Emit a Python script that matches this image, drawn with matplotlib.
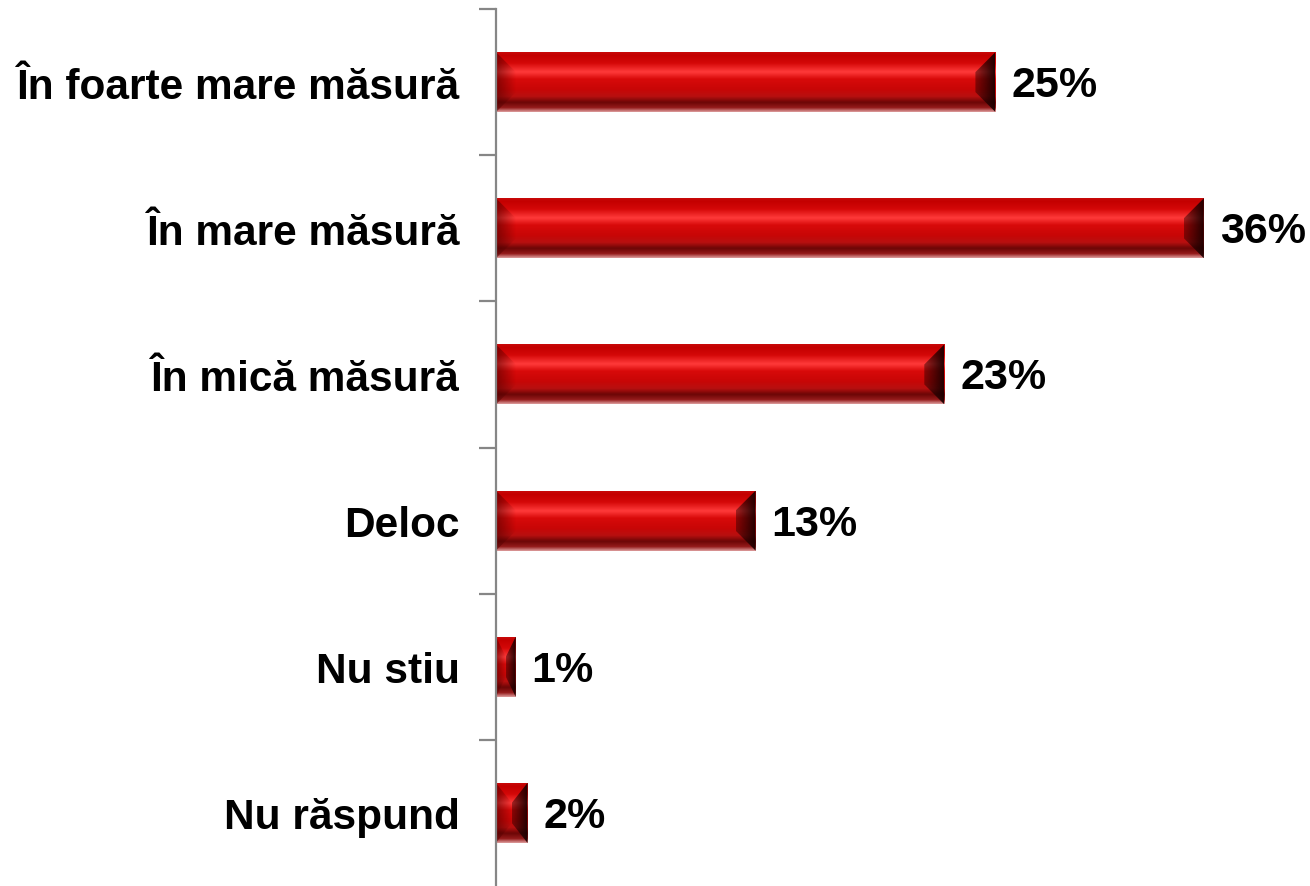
#!/usr/bin/env python3
"""
Survey answer distribution drawn as horizontal bevelled red bars.
"""

import matplotlib
matplotlib.use("Agg")
import matplotlib.pyplot as plt
import numpy as np
from matplotlib.colors import LinearSegmentedColormap, to_rgba
from matplotlib.patches import Polygon, Rectangle

# Answer categories, top to bottom
CATEGORIES = [
    "În foarte mare măsură",
    "În mare măsură",
    "În mică măsură",
    "Deloc",
    "Nu stiu",
    "Nu răspund",
]
# Share of respondents (%)
VALUES = [25.4, 36.0, 22.8, 13.2, 1.0, 1.6]

FIG_W, FIG_H, DPI = 13.1, 8.87, 100
AX_LEFT_PX, AX_TOP_PX = 496, 10
X_MAX = 41.4
BAR_HEIGHT = 0.41
BEVEL_PX = 20

plt.rcParams["font.family"] = ["Liberation Sans", "DejaVu Sans"]

# vertical shading of the bar body, top edge -> bottom edge
BODY_CMAP = LinearSegmentedColormap.from_list("body", [
    (0.00, "#c80a0a"),
    (0.05, "#c40000"),
    (0.18, "#d40808"),
    (0.33, "#ff3a3a"),
    (0.45, "#d80a0a"),
    (0.62, "#c80606"),
    (0.74, "#b81010"),
    (0.84, "#6c0606"),
    (0.93, "#941a1a"),
    (1.00, "#dc9a9a"),
])


def gradient_image(ax, extent, rgba, clip_patch):
    """Draw an RGBA image over extent, clipped to a patch."""
    im = ax.imshow(rgba, extent=extent, origin="upper", aspect="auto",
                   interpolation="bilinear", zorder=2)
    im.set_clip_path(clip_patch)
    return im


def bevel_bar(ax, y, width, height, px_x, px_y):
    """Draw one bar with a vertical gradient and dark bevelled ends."""
    top, bottom = y - height / 2, y + height / 2
    rect = Rectangle((0, top), width, height, facecolor="none",
                     edgecolor="none")
    ax.add_patch(rect)
    body = BODY_CMAP(np.linspace(0, 1, 200))[:, None, :]
    gradient_image(ax, (0, width, bottom, top), body, rect)

    dx = min(BEVEL_PX / px_x, width / 2)
    dy = min(BEVEL_PX / px_y, height / 2)

    # left bevel: darker at outer edge
    left = Polygon([(0, top), (dx, top + dy), (dx, bottom - dy), (0, bottom)],
                   closed=True, facecolor="none", edgecolor="none")
    ax.add_patch(left)
    base = np.array(to_rgba("#500000"))
    lg = np.tile(base, (1, 50, 1))
    lg[0, :, 3] = np.linspace(0.6, 0.0, 50)
    gradient_image(ax, (0, dx, bottom, top), lg, left)

    # right bevel: nearly black at outer edge
    right = Polygon([(width, top), (width - dx, top + dy),
                     (width - dx, bottom - dy), (width, bottom)],
                    closed=True, facecolor="none", edgecolor="none")
    ax.add_patch(right)
    base = np.array(to_rgba("#1a0000"))
    rg = np.tile(base, (1, 50, 1))
    rg[0, :, 3] = np.linspace(0.4, 0.95, 50)
    gradient_image(ax, (width - dx, width, bottom, top), rg, right)


def main():
    fig = plt.figure(figsize=(FIG_W, FIG_H), dpi=DPI)
    fig_w_px, fig_h_px = FIG_W * DPI, FIG_H * DPI
    ax_w_px = fig_w_px - AX_LEFT_PX
    ax_h_px = fig_h_px - AX_TOP_PX
    ax = fig.add_axes([AX_LEFT_PX / fig_w_px, 0,
                       ax_w_px / fig_w_px, ax_h_px / fig_h_px])

    n = len(CATEGORIES)
    ax.set_xlim(0, X_MAX)
    ax.set_ylim(n - 0.5, -0.5)
    px_x = ax_w_px / X_MAX
    px_y = ax_h_px / n

    for i, v in enumerate(VALUES):
        bevel_bar(ax, i, v, BAR_HEIGHT, px_x, px_y)
        ax.annotate(f"{v:.0f}%", xy=(v, i), xytext=(16, -3),
                    textcoords="offset pixels", va="center", ha="left",
                    fontsize=31, fontweight="bold", color="black")

    for side in ("top", "right", "bottom"):
        ax.spines[side].set_visible(False)
    ax.spines["left"].set_color("#868686")
    ax.spines["left"].set_linewidth(1.6)
    ax.set_xticks([])

    ax.set_yticks(range(n))
    ax.set_yticklabels(CATEGORIES, fontsize=30.5, fontweight="bold")
    ax.tick_params(axis="y", which="major", length=0, pad=26)
    ax.set_yticks(np.arange(-0.5, n - 1, 1.0), minor=True)
    ax.tick_params(axis="y", which="minor", length=12, width=1.6,
                   color="#868686", direction="out")

    fig.savefig("out.png", dpi=DPI)
    plt.close(fig)


if __name__ == "__main__":
    main()
